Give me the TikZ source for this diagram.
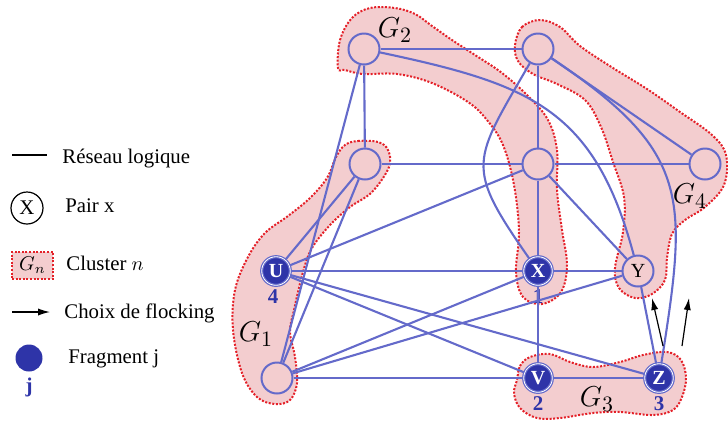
\documentclass[tikz,border=0pt]{standalone}
\usepackage{fontspec}
\setmainfont{Liberation Serif}
\usetikzlibrary{calc, positioning}
\usetikzlibrary{arrows.meta}

\definecolor{linkblue}{RGB}{100,106,202}
\definecolor{fragblue}{RGB}{46,52,168}
\definecolor{clpink}{RGB}{243,205,207}
\definecolor{clred}{RGB}{228,32,40}

\begin{document}
\begin{tikzpicture}[x=0.5pt,y=-0.5pt,
  link/.style={linkblue,line width=1.05pt},
  peer/.style={circle,draw=linkblue,line width=1pt,minimum size=15.5pt,inner sep=0pt,
    font=\fontsize{10}{10}\selectfont},
  frag/.style={circle,draw=linkblue,fill=fragblue,text=white,line width=0.6pt,
    double=white,double distance=0.4pt,minimum size=14.3pt,inner sep=0pt,
    font=\bfseries\fontsize{10}{10}\selectfont},
  fnum/.style={fragblue,inner sep=0pt,font=\bfseries\fontsize{10.5}{10}\selectfont},
  cluster/.style={fill=clpink,draw=clred,line width=1pt,dash pattern=on 1pt off 0.8pt},
  glabel/.style={inner sep=0pt,font=\fontsize{15}{15}\selectfont},
  legtext/.style={anchor=base west,inner sep=0pt,font=\fontsize{10.4}{12}\selectfont},
  flock/.style={black,line width=0.6pt,-{Latex[length=6pt,width=3.6pt]}}]
\useasboundingbox (0,0) rectangle (728,425);

% Clusters
\draw[cluster] plot[smooth cycle, tension=0.6] coordinates {
  (345,145) (358,141) (378,142) (388,150) (389,167) (372,192) (350,207) (330,225)
  (312,248) (303,272) (294,310) (290,332) (295,357) (297,383) (290,400) (275,404)
  (257,397) (242,373) (233,330) (235,290) (248,257) (265,233) (288,216) (310,198)
  (327,178) (336,157)};
\draw[cluster] plot[smooth cycle, tension=0.6] coordinates {
  (338,68) (340,40) (352,18) (370,8) (395,8) (415,14) (432,26) (452,40) (475,55)
  (502,73) (528,96) (548,120) (557,150) (557,190) (562,230) (567,265) (561,292)
  (542,304) (523,297) (516,272) (519,232) (514,185) (503,145) (487,120) (468,102)
  (432,83) (397,74) (363,74) (345,70)};
\draw[cluster] plot[smooth cycle, tension=0.6] coordinates {
  (517,380) (520,366) (530,357) (550,354) (570,362) (593,367) (620,362) (643,355)
  (667,352) (681,360) (686,378) (682,397) (673,410) (653,415) (620,412) (593,413)
  (560,418) (537,418) (520,408) (514,393)};
\draw[cluster] plot[smooth cycle, tension=0.6] coordinates {
  (515,45) (522,27) (540,20) (560,27) (580,46) (613,68) (647,89) (680,112) (712,135)
  (726,155) (724,185) (705,207) (685,220) (672,234) (667,258) (665,280) (652,294)
  (635,298) (619,288) (615,268) (623,232) (624,197) (613,162) (601,127) (585,100)
  (557,84) (533,74) (518,61)};
\node[glabel] (g1) at (256,334) {$G_1$};
\node[glabel] (g2) at (395,30) {$G_2$};
\node[glabel] (g3) at (597,399) {$G_3$};
\node[glabel] (g4) at (690,196) {$G_4$};

% Peers and fragments
\node[peer] (A) at (364,49) {};
\node[peer] (B) at (538,49) {};
\node[peer] (C) at (365,164) {};
\node[peer] (D) at (538,164) {};
\node[peer] (E) at (705,164) {};
\node[frag] (U) at (276,271) {U};
\node[frag] (X) at (538,271) {X};
\node[peer] (Y) at (638,271) {Y};
\node[peer] (W) at (277,378) {};
\node[frag] (V) at (538,378) {V};
\node[frag] (Z) at (659,378) {Z};
\node[fnum, below=1.5pt of U, xshift=-1.5pt] (n4) {4};
\node[fnum, below=1.5pt of X] (n1) {1};
\node[fnum, below=1.5pt of V] (n2) {2};
\node[fnum, below=1.5pt of Z] (n3) {3};

% Logical links
\draw[link] (A) -- (B);
\draw[link] (A) -- (C);
\draw[link] (A) -- (W);
\draw[link] (B) -- (D);
\draw[link] (B) -- (E);
\draw[link] (C) -- (D);
\draw[link] (C) -- (U);
\draw[link] (C) -- (W);
\draw[link] (D) -- (E);
\draw[link] (D) -- (X);
\draw[link] (D) -- (U);
\draw[link] (D) -- (Y);
\draw[link] (U) -- (X);
\draw[link] (U) -- (V);
\draw[link] (U) -- (Z);
\draw[link] (W) -- (X);
\draw[link] (W) -- (Y);
\draw[link] (W) -- (V);
\draw[link] (X) -- (V);
\draw[link] (X) -- (Y);
\draw[link] (Y) -- (Z);
\draw[link] (V) -- (Z);
\draw[link] (A) to[out=-12, in=105, looseness=1.2] (Y);
\draw[link] (B) to[out=-120, in=125, looseness=1.5] (X);
\draw[link] (B) to[out=-34, in=81, looseness=1.33] (Z);

% Flocking choices
\coordinate (f1) at (663,346);
\coordinate (f2) at (652,298);
\coordinate (f3) at (682,346);
\coordinate (f4) at (689,298);
\draw[flock] (f1) -- (f2);
\draw[flock] (f3) -- (f4);

% Legend
\coordinate (l1) at (12,155);
\coordinate (l2) at (47,155);
\draw[black,line width=0.6pt] (l1) -- (l2);
\node[legtext] (t1) at (62,163) {Réseau logique};
\node[circle,draw=black,line width=0.6pt,minimum size=16pt,inner sep=0pt,
  font=\fontsize{10.4}{10}\selectfont] (lx) at (27,208) {X};
\node[legtext] (t2) at (65,212) {Pair x};
\node[cluster,minimum width=20.5pt,minimum height=13.5pt,inner sep=0pt] (lg) at (32.5,265.5) {$G_n$};
\node[legtext] (t3) at (66,270) {Cluster $n$};
\coordinate (l3) at (12,312);
\coordinate (l4) at (50,312);
\draw[flock] (l3) -- (l4);
\node[legtext] (t4) at (64,318) {Choix de flocking};
\node[circle,fill=fragblue,minimum size=13.5pt,inner sep=0pt] (lf) at (29,358) {};
\node[fnum, below=3pt of lf] (lj) {j};
\node[legtext] (t5) at (68,363) {Fragment j};
\end{tikzpicture}
\end{document}
